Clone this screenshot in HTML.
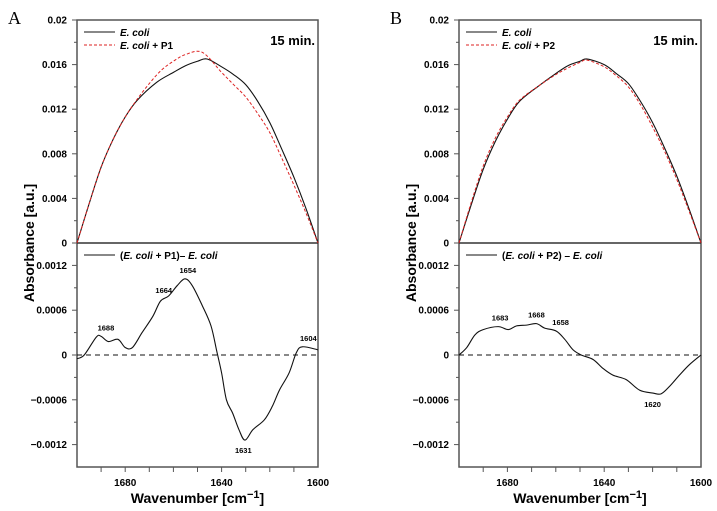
<!DOCTYPE html>
<html><head><meta charset="utf-8"><style>
body{margin:0;background:#fff}
svg{display:block;font-family:"Liberation Sans",Arial,sans-serif}
</style></head><body>
<svg id="chart" width="717" height="511" viewBox="0 0 717 511" xmlns="http://www.w3.org/2000/svg"></svg>
<script>
// ---- data ----
const specWnA = [1700,1695,1690,1685,1680,1675,1667,1660,1655,1650,1646,1640,1635,1630,1625,1620,1615,1610,1605,1600];
const ecoliA = [0,0.0035,0.0068,0.0093,0.0113,0.0128,0.0144,0.0153,0.0159,0.0163,0.0165,0.0158,0.0151,0.0142,0.0127,0.0108,0.0084,0.0059,0.0031,0];
const redWnA = [1700,1695,1690,1685,1680,1675,1670,1665,1660,1655,1648,1640,1635,1630,1625,1620,1615,1610,1605,1600];
const ecoliP1 = [0,0.0035,0.0068,0.0093,0.0113,0.0129,0.0143,0.0155,0.0163,0.0169,0.0171,0.0153,0.0142,0.0131,0.0116,0.0099,0.0076,0.0052,0.0027,0];
const specWnB = [1700,1695,1690,1685,1680,1675,1667,1660,1655,1650,1647,1640,1635,1630,1625,1620,1615,1610,1605,1600];
const ecoliB = [0,0.0034,0.0066,0.0091,0.0111,0.0127,0.0141,0.0152,0.0159,0.0163,0.0165,0.0160,0.0152,0.0143,0.0127,0.0108,0.0085,0.0060,0.0031,0];
const ecoliP2 = [0,0.0036,0.0069,0.0094,0.0113,0.0128,0.0141,0.0151,0.0157,0.0162,0.0164,0.0158,0.0150,0.0140,0.0124,0.0104,0.0082,0.0057,0.0029,0];
const diffWnA = [1700,1697,1692,1690,1687,1683,1680,1677,1673,1668.5,1665.4,1662,1658.4,1655.2,1652.2,1648,1644.4,1642,1640,1638,1635.4,1632.8,1630.3,1627,1622.3,1619,1616,1612,1609,1606.5,1600];
const diffA = [-0.00005,0,0.00024,0.00025,0.00018,0.00021,0.0001,0.0001,0.0003,0.00052,0.00072,0.00079,0.00093,0.00102,0.00093,0.00066,0.00039,0.00005,-0.00024,-0.0006,-0.00078,-0.001,-0.00114,-0.001,-0.00087,-0.00069,-0.00047,-0.00024,0.00003,0.00011,0.00007];
const diffWnB = [1700,1696.8,1693.4,1690,1683.8,1679.7,1676.2,1672.1,1668,1664.6,1659.8,1656.3,1652.9,1649.5,1644.6,1640.5,1636.4,1630.9,1625.4,1619.9,1616.5,1613,1608.9,1604.8,1600];
const diffB = [0,0.0001,0.00027,0.00034,0.00038,0.00034,0.00039,0.0004,0.00042,0.00036,0.00032,0.00021,0.00007,0,-0.00006,-0.00018,-0.00027,-0.00033,-0.00047,-0.00051,-0.00052,-0.00042,-0.00027,-0.00013,0];
const peaksA = [1688,1664,1654,1631,1604];
const peakValsA = [0.00025,0.00075,0.00102,-0.00114,0.00011];
const peaksB = [1683,1668,1658,1620];
const peakValsB = [0.00038,0.00042,0.00032,-0.00052];
const topTicks = [0,0.004,0.008,0.012,0.016,0.02];
const topTickLabels = ["0","0.004","0.008","0.012","0.016","0.02"];
const botTicks = [-0.0012,-0.0006,0,0.0006,0.0012];
const botTickLabels = ["\u22120.0012","\u22120.0006","0","0.0006","0.0012"];
const xTicks = [1680,1640,1600];

const NS="http://www.w3.org/2000/svg";
const svg=document.getElementById('chart');
function mk(tag,attrs,parent){const e=document.createElementNS(NS,tag);for(const k in attrs)e.setAttribute(k,attrs[k]);(parent||svg).appendChild(e);return e;}
function smooth(pts){let d=`M${pts[0][0]},${pts[0][1]}`;for(let i=0;i<pts.length-1;i++){const p0=pts[i-1]||pts[i],p1=pts[i],p2=pts[i+1],p3=pts[i+2]||p2;const c1=[p1[0]+(p2[0]-p0[0])/6,p1[1]+(p2[1]-p0[1])/6],c2=[p2[0]-(p3[0]-p1[0])/6,p2[1]-(p3[1]-p1[1])/6];d+=`C${c1[0]},${c1[1]} ${c2[0]},${c2[1]} ${p2[0]},${p2[1]}`;}return d;}

function panel(o){
  const g=mk('g',{});
  
  
  const L=o.left,R=o.right,T=20,Z=243,B=467;
  const xs=w=>L+(1700-w)/100*(R-L);
  const yT=v=>Z-v/0.02*(Z-T);
  const yB=v=>355-v/0.0015*(355-243);
  const lbl=mk('text',{x:o.left-69,y:24,'font-family':'Liberation Serif,serif','font-size':18},g);lbl.textContent=o.id;
  
  mk('rect',{x:L,y:T,width:R-L,height:B-T,fill:'none',stroke:'#555',"stroke-width":1.5},g);
  mk('line',{x1:L,x2:R,y1:Z,y2:Z,stroke:'#333',"stroke-width":1.5},g);
  for(let v=0;v<=0.02001;v+=0.002){mk('line',{x1:L-(Math.abs(v/0.004-Math.round(v/0.004))<1e-6?5:3),x2:L,y1:yT(v),y2:yT(v),stroke:'#555'},g);}
  topTicks.forEach((v,i)=>{const t=mk('text',{x:L-10,y:yT(v)+3.5,'text-anchor':'end','font-size':10,'font-weight':'bold'},g);t.textContent=topTickLabels[i];
    });
  for(let k=-5;k<=5;k++){const v=k*0.0003;if(yB(v)<245||yB(v)>466)continue;mk('line',{x1:L-(k%2===0?5:3),x2:L,y1:yB(v),y2:yB(v),stroke:'#555'},g);}
  botTicks.forEach((v,i)=>{const t=mk('text',{x:L-10,y:yB(v)+3.5,'text-anchor':'end','font-size':10,'font-weight':'bold'},g);t.textContent=botTickLabels[i];
    });
  for(let w=1690;w>1600;w-=10)mk('line',{x1:xs(w),x2:xs(w),y1:B,y2:B+5,stroke:'#555'},g);
  xTicks.forEach(w=>{const t=mk('text',{x:xs(w),y:486,'text-anchor':'middle','font-size':10,'font-weight':'bold'},g);t.textContent=w;
    });
  const xt=mk('text',{x:(L+R)/2,y:503,'text-anchor':'middle','font-size':14,'font-weight':'bold'},g);
  xt.innerHTML='Wavenumber [cm<tspan font-size="11" dy="-5">\u22121</tspan><tspan dy="5">]</tspan>';
  
  const yt=mk('text',{x:0,y:0,transform:`translate(${L-43},243) rotate(-90)`,'text-anchor':'middle','font-size':14,'font-weight':'bold'},g);
  yt.textContent='Absorbance [a.u.]';
  const s1=mk('path',{d:smooth(o.bw.map((w,i)=>[xs(w),yT(o.bv[i])])),fill:'none',stroke:'#111','stroke-width':1.1},g);
  
  const s2=mk('path',{d:smooth(o.rw.map((w,i)=>[xs(w),yT(o.rv[i])])),fill:'none',stroke:'#d22','stroke-width':1,'stroke-dasharray':'3,2'},g);
  
  mk('line',{x1:L,x2:R,y1:yB(0),y2:yB(0),stroke:'#111','stroke-dasharray':'5,4'},g);
  const s3=mk('path',{d:smooth(o.dw.map((w,i)=>[xs(w),yB(o.dv[i])])),fill:'none',stroke:'#111','stroke-width':1.1},g);
  
  o.pk.forEach((w,i)=>{const v=o.pv[i];const t=mk('text',{x:xs(w),y:v<0?yB(v)+13:yB(v)-6,'text-anchor':'middle','font-size':7.5,'font-weight':'bold'},g);t.textContent=w;
    });
  mk('line',{x1:L+7,x2:L+38,y1:32,y2:32,stroke:'#111'},g);
  mk('line',{x1:L+7,x2:L+38,y1:45,y2:45,stroke:'#d22','stroke-dasharray':'3,2'},g);
  const l1=mk('text',{x:L+43,y:36,'font-size':10,'font-weight':'bold','font-style':'italic'},g);l1.textContent='E. coli';
  
  const l2=mk('text',{x:L+43,y:49,'font-size':10,'font-weight':'bold'},g);l2.innerHTML='<tspan font-style="italic">E. coli</tspan> + '+o.p;
  
  const m=mk('text',{x:R-3,y:45,'text-anchor':'end','font-size':13,'font-weight':'bold'},g);m.textContent='15 min.';
  
  mk('line',{x1:L+7,x2:L+38,y1:255,y2:255,stroke:'#111'},g);
  const l3=mk('text',{x:L+43,y:259,'font-size':10,'font-weight':'bold'},g);
  l3.innerHTML='(<tspan font-style="italic">E. coli</tspan> + '+o.p+')'+o.sep+'<tspan font-style="italic">E. coli</tspan>';
  
}
panel({id:'A',left:77,right:318,bw:specWnA,bv:ecoliA,rw:redWnA,rv:ecoliP1,dw:diffWnA,dv:diffA,pk:peaksA,pv:peakValsA,p:'P1',sep:'\u2013 '});
panel({id:'B',left:459,right:701,bw:specWnB,bv:ecoliB,rw:specWnB,rv:ecoliP2,dw:diffWnB,dv:diffB,pk:peaksB,pv:peakValsB,p:'P2',sep:' \u2013 '});
</script>
</body></html>
